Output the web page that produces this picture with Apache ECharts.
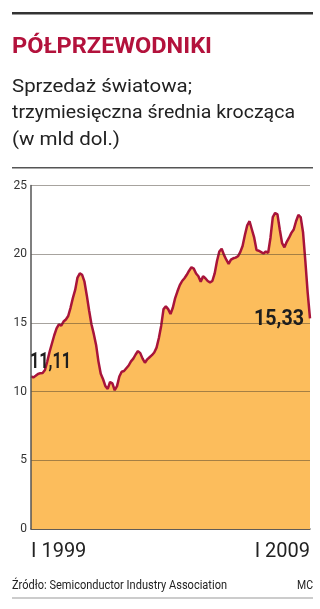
<!DOCTYPE html>
<html><head><meta charset="utf-8">
<script src="https://cdn.jsdelivr.net/npm/echarts@6/dist/echarts.min.js"></script>
<style>html,body{margin:0;padding:0;background:#fff}#c{width:320px;height:609px}</style>
</head><body><div id="c"></div>
<script>
var title = 'PÓŁPRZEWODNIKI';
var subtitle = ['Sprzedaż światowa;', 'trzymiesięczna średnia krocząca', '(w mld dol.)'];
var source = 'Źródło: Semiconductor Industry Association';
var author = 'MC';
var xTickLabels = ['I 1999', 'I 2009'];
var yTicks = [0, 5, 10, 15, 20, 25];
var startLabel = '11,11';
var endLabel = '15,33';
// monthly 3-month moving average, Jan 1999 .. Jan 2009 (bn USD)
var sales = [
 11.11,11.03,11.15,11.28,11.34,11.36,11.58,12.2,12.9,13.5,14.1,14.6,
 14.9,14.8,15.1,15.25,15.5,16.1,16.8,17.4,18.3,18.6,18.5,18.0,
 17.0,15.9,14.9,14.2,13.4,12.2,11.3,10.9,10.4,10.2,10.7,10.6,
 10.1,10.4,11.1,11.45,11.5,11.7,11.9,12.2,12.4,12.7,12.95,12.8,
 12.4,12.1,12.35,12.5,12.65,12.85,13.2,13.9,14.8,16.0,16.2,16.0,
 15.65,16.1,16.8,17.3,17.75,18.05,18.25,18.5,18.8,19.05,18.95,18.6,
 18.4,18.0,18.4,18.25,18.05,17.95,18.05,18.6,19.5,20.2,20.4,19.95,
 19.6,19.3,19.6,19.7,19.75,19.85,20.15,20.6,21.4,22.1,22.4,21.8,
 21.2,20.3,20.25,20.15,20.05,20.2,20.1,21.2,22.7,23.0,22.9,21.8,
 20.8,20.5,20.9,21.2,21.55,21.8,22.4,22.85,22.7,21.6,19.5,17.2,
 15.33
];
var months = [];
for (var i = 0; i < sales.length; i++) {
  months.push((1999 + Math.floor(i / 12)) + '-' + ((i % 12) + 1));
}
var FONT = "Roboto, 'Liberation Sans', sans-serif";
var last = sales.length - 1;

var mctx = document.createElement('canvas').getContext('2d');
function fitText(text, font, x, y, width, color, align) {
  mctx.font = font;
  var w = mctx.measureText(text).width;
  return {
    type: 'text', x: x, y: y, scaleX: width / w, z: 20,
    style: {text: text, font: font, fill: color, align: align || 'left', verticalAlign: 'middle'}
  };
}

var chart = echarts.init(document.getElementById('c'), null, {renderer: 'canvas'});
chart.setOption({
  animation: false,
  backgroundColor: '#fff',
  grid: {left: 31, right: 10, top: 185.5, bottom: 80},
  xAxis: {
    type: 'category', data: months, boundaryGap: false,
    axisLine: {show: true, lineStyle: {color: '#555', width: 1.5}},
    axisTick: {show: false},
    axisLabel: {
      interval: function (i) { return i === 0 || i === last; },
      formatter: function (v, i) { return i === 0 ? xTickLabels[0] : (i === last ? xTickLabels[1] : ''); },
      alignMinLabel: 'left', alignMaxLabel: 'right',
      fontFamily: FONT, fontSize: 20, color: '#222', margin: 13
    },
    splitLine: {show: false}
  },
  yAxis: {
    type: 'value', min: yTicks[0], max: yTicks[yTicks.length - 1], interval: 5, z: 5,
    axisLine: {show: true, lineStyle: {color: '#555', width: 1.5}},
    axisTick: {show: false},
    axisLabel: {fontFamily: FONT, fontSize: 12, color: '#333', margin: 4},
    splitLine: {show: true, lineStyle: {color: 'rgba(60,50,40,0.45)', width: 1.2}}
  },
  series: [{
    type: 'line', data: sales, showSymbol: false, smooth: false, z: 3,
    lineStyle: {color: '#a8143a', width: 2.5},
    areaStyle: {color: '#fcbd5c', opacity: 1}
  }]
});

var p0 = chart.convertToPixel({seriesIndex: 0}, [0, sales[0]]);
var p1 = chart.convertToPixel({seriesIndex: 0}, [last, sales[last]]);
var LBL = "bold 22px " + FONT;
chart.setOption({
  graphic: [
    {type: 'rect', shape: {x: 12, y: 12, width: 301, height: 2.5}, style: {fill: '#333'}},
    fitText(title, "bold 22px " + FONT, 12, 47, 200, '#b3123c'),
    fitText(subtitle[0], "19px " + FONT, 12, 87, 180, '#222'),
    fitText(subtitle[1], "19px " + FONT, 12, 113.5, 283, '#222'),
    fitText(subtitle[2], "19px " + FONT, 12, 140, 108, '#222'),
    {type: 'rect', shape: {x: 12, y: 167, width: 301, height: 1.5}, style: {fill: '#555'}},
    fitText(startLabel, LBL, p0[0] - 1, p0[1] - 13.5, 41, '#1e1e1e'),
    fitText(endLabel, LBL, p1[0] - 56, p1[1] + 1.5, 50, '#1e1e1e'),
    fitText(source, "13px " + FONT, 12, 585.5, 215, '#222'),
    fitText(author, "13px " + FONT, 297, 585.5, 16, '#222'),
    {type: 'rect', shape: {x: 12, y: 597.5, width: 301, height: 1}, style: {fill: '#999'}}
  ]
});
</script></body></html>
